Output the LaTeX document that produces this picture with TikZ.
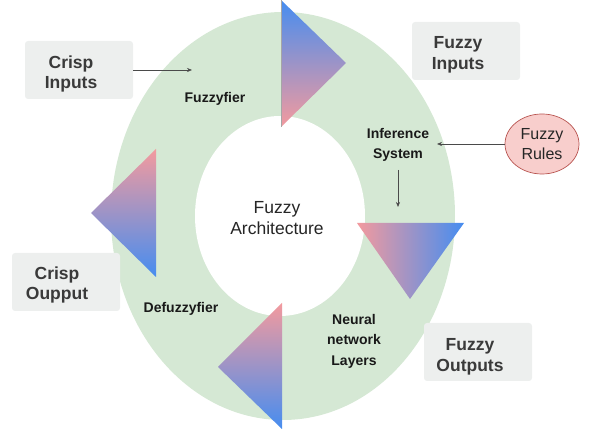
\documentclass[tikz,border=0pt]{standalone}
\usepackage{fontspec}
\setmainfont{Liberation Sans}
\usetikzlibrary{arrows.meta,shapes.geometric}

\definecolor{ringgreen}{HTML}{D5E8D4}
\definecolor{boxgray}{HTML}{EDEFEE}
\definecolor{boxink}{HTML}{3A3A3A}
\definecolor{pinkend}{HTML}{F39A9E}
\definecolor{blueend}{HTML}{468DF0}
\definecolor{rulefill}{HTML}{F8CECC}
\definecolor{ruleedge}{HTML}{B85450}
\definecolor{wire}{HTML}{4A4A4A}

\tikzset{
  boxshape/.style={fill=boxgray, rounded corners=3pt, minimum width=108pt,
    minimum height=58pt, inner sep=0pt},
  boxtext/.style={text=boxink, align=center, inner sep=0pt,
    font=\fontsize{17.5}{20.5}\selectfont\bfseries},
  stagetext/.style={text=black!90, align=center, inner sep=0pt,
    font=\fontsize{14}{20.5}\selectfont\bfseries},
  conn/.style={draw=wire, line width=0.6pt,
    -{Stealth[length=5pt,width=4pt]}},
}

\begin{document}
\begin{tikzpicture}[x=1pt,y=-1pt]
\useasboundingbox (0,0) rectangle (590,435);

% green ring with white core
\fill[ringgreen] (283,216) ellipse [x radius=172pt, y radius=204pt];
\fill[white] (280,216) ellipse [x radius=85pt, y radius=100pt];

% gradient arrowheads around the ring
\shade[top color=blueend, bottom color=pinkend] (281,0) -- (346,63) -- (281,127) -- cycle;
\draw[gray!70, line width=0.4pt] (281,0) -- (281,127);
\shade[left color=pinkend, right color=blueend] (357,223) -- (464,223) -- (410,299) -- cycle;
\shade[top color=pinkend, bottom color=blueend] (156,149) -- (156,277) -- (91,213) -- cycle;
\shade[top color=pinkend, bottom color=blueend] (282,303) -- (282,429) -- (218,367) -- cycle;

% centre title
\node[align=center, text=black!85, inner sep=0pt,
  font=\fontsize{17.5}{21}\selectfont] (core) at (277,218) {Fuzzy\\Architecture};

% stage labels on the ring
\node[stagetext] (fz) at (215,99) {Fuzzyfier};
\node[stagetext] (inf) at (398,145) {Inference\\System};
\node[stagetext] (nn) at (354,341) {Neural\\network\\Layers};
\node[stagetext] (dfz) at (181,309) {Defuzzyfier};

% outer boxes
\node[boxshape] (ci) at (79,70) {};
\node[boxtext] (citext) at ([xshift=-8pt,yshift=-4pt]ci.center) {Crisp\\Inputs};
\node[boxshape] (fi) at (466,51) {};
\node[boxtext] (fitext) at ([xshift=-8pt,yshift=-4pt]fi.center) {Fuzzy\\Inputs};
\node[boxshape] (co) at (66,282) {};
\node[boxtext] (cotext) at ([xshift=-9pt,yshift=-3pt]co.center) {Crisp\\Oupput};
\node[boxshape] (fo) at (478,352) {};
\node[boxtext] (fotext) at ([xshift=-8pt,yshift=-5pt]fo.center) {Fuzzy\\Outputs};

% rule base
\node[ellipse, fill=rulefill, draw=ruleedge, line width=0.7pt,
  minimum width=74pt, minimum height=60pt, inner sep=0pt, align=center,
  text=black!85, font=\fontsize{16}{20}\selectfont] (rules) at (542,144) {Fuzzy\\Rules};

% connectors
\coordinate (ciend) at (192,70);
\coordinate (rulesend) at (437,144);
\coordinate (infend) at (398,207);
\draw[conn] (ci.east) -- (ciend);
\draw[conn] (rules.west) -- (rulesend);
\draw[conn, shorten <=8pt] (inf.south) -- (infend);
\end{tikzpicture}
\end{document}
